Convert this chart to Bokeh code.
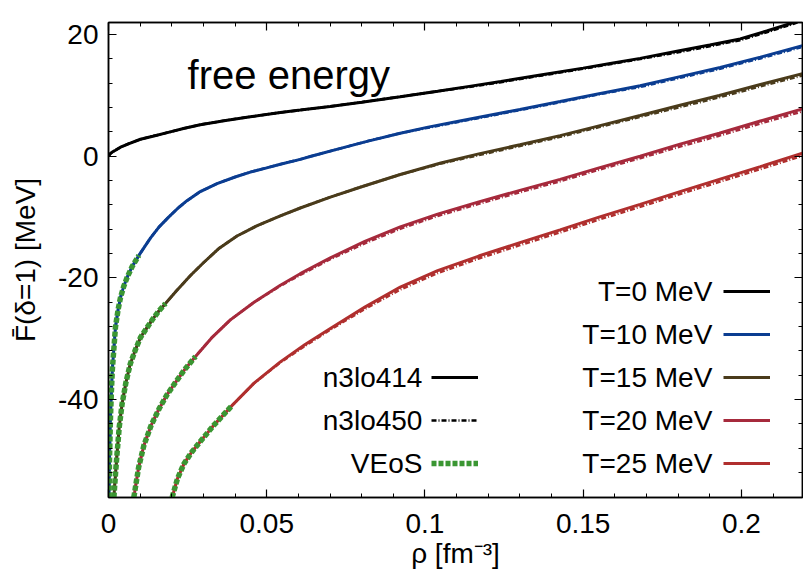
from bokeh.plotting import figure
from bokeh.models import (Range1d, FixedTicker, LinearAxis, Legend, LegendItem, Label,
                          CustomLabelingPolicy)
from bokeh.core.properties import value
from bokeh.embed import file_html
from bokeh.resources import INLINE

# ---------------- data ----------------
x_ticks = [0, 0.05, 0.1, 0.15, 0.2]
x_tick_labels = ["0", "0.05", "0.1", "0.15", "0.2"]
x_minor = [0.01, 0.02, 0.03, 0.04, 0.06, 0.07, 0.08, 0.09, 0.11, 0.12, 0.13, 0.14,
           0.16, 0.17, 0.18, 0.19, 0.21]
y_ticks = [-40, -20, 0, 20]
y_tick_labels = ["-40", "-20", "0", "20"]
y_minor = [-52, -48, -44, -36, -32, -28, -24, -16, -12, -8, -4, 4, 8, 12, 16]

temps = ["T=0 MeV", "T=10 MeV", "T=15 MeV", "T=20 MeV", "T=25 MeV"]
models = ["n3lo414", "n3lo450", "VEoS"]

# T = 0 MeV
rho_T0 = [0.0, 0.0005, 0.0012, 0.0022, 0.0038, 0.0065, 0.0101, 0.0140, 0.0186, 0.0240,
          0.0290, 0.0370, 0.0448, 0.0543, 0.0606, 0.0700, 0.0800, 0.0922,
          0.1040, 0.1140, 0.1240, 0.1370, 0.1500, 0.1590, 0.1680, 0.1800, 0.1900, 0.1996,
          0.2080, 0.2165, 0.2193]
F414_T0 = [0.0, 0.4, 0.7, 1.0, 1.5, 2.1, 2.8, 3.3, 3.9, 4.6,
           5.2, 5.9, 6.5, 7.2, 7.6, 8.2, 8.9, 9.8,
           10.7, 11.5, 12.3, 13.4, 14.5, 15.3, 16.1, 17.3, 18.3, 19.3,
           20.6, 22.0, 22.5]
F450_T0 = F414_T0[:18] + [10.7, 11.4, 12.2, 13.3, 14.4, 15.2, 16.0, 17.1, 18.1, 19.1,
                          20.4, 21.8, 22.3]

# T = 10 MeV
rho_T10 = [0.00017, 0.0003, 0.0006, 0.0009, 0.0012, 0.0016, 0.0022, 0.0030, 0.0038, 0.0048,
           0.0059, 0.0075, 0.0096, 0.0115, 0.0133, 0.0160, 0.0190, 0.0220, 0.0248, 0.0290,
           0.0343, 0.0400, 0.0448, 0.0500, 0.0543, 0.0606, 0.0640, 0.0733, 0.0820, 0.0922,
           0.1010, 0.1110, 0.1200, 0.1300, 0.1427, 0.1550, 0.1680, 0.1806, 0.1933, 0.2060,
           0.2193]
F414_T10 = [-56.1, -50.2, -43.4, -38.8, -35.2, -32.3, -28.1, -25.3, -23.2, -21.4,
            -19.9, -18.1, -16.3, -14.8, -13.4, -11.6, -10.0, -8.5, -7.3, -5.8,
            -4.5, -3.4, -2.6, -1.9, -1.3, -0.5, 0.0, 1.3, 2.5, 3.8,
            4.8, 5.8, 6.7, 7.7, 9.0, 10.3, 11.6, 13.1, 14.6, 16.3,
            18.2]
F450_T10 = F414_T10[:29] + [3.8, 4.7, 5.7, 6.6, 7.6, 8.9, 10.2, 11.4, 12.9, 14.4, 16.1, 18.0]

# T = 15 MeV
rho_T15 = [0.0017, 0.0022, 0.0027, 0.0034, 0.0043, 0.0055, 0.0069, 0.0085, 0.0101, 0.0120,
           0.0138, 0.0158, 0.0180, 0.0215, 0.0259, 0.0300, 0.0350, 0.0406, 0.0470, 0.0543,
           0.0606, 0.0701, 0.0800, 0.0922, 0.1050, 0.1170, 0.1300, 0.1427, 0.1550, 0.1680,
           0.1806, 0.1930, 0.2060, 0.2193]
F414_T15 = [-56.1, -52.3, -48.9, -44.5, -40.7, -37.2, -34.1, -31.8, -29.8, -28.3,
            -26.9, -25.5, -24.2, -22.1, -19.6, -17.5, -15.1, -13.1, -11.4, -9.8,
            -8.5, -6.7, -5.0, -3.0, -1.1, 0.4, 1.9, 3.4, 5.0, 6.7,
            8.4, 10.0, 11.8, 13.6]
F450_T15 = F414_T15[:23] + [-3.0, -1.2, 0.2, 1.7, 3.2, 4.8, 6.5, 8.1, 9.7, 11.5, 13.3]

# T = 20 MeV
rho_T20 = [0.0080, 0.0095, 0.0112, 0.0135, 0.0160, 0.0185, 0.0210, 0.0240, 0.0275, 0.0325,
           0.0385, 0.0460, 0.0543, 0.0606, 0.0701, 0.0810, 0.0922, 0.1040, 0.1170, 0.1300,
           0.1427, 0.1550, 0.1680, 0.1806, 0.1930, 0.2060, 0.2193]
F414_T20 = [-56.1, -51.2, -47.5, -44.2, -41.5, -39.2, -37.3, -35.1, -32.9, -29.9,
            -26.9, -24.0, -21.2, -19.3, -16.7, -14.0, -11.6, -9.5, -7.5, -5.6,
            -3.8, -1.9, 0.0, 2.0, 3.8, 5.8, 7.8]
F450_T20 = F414_T20[:12] + [-21.3, -19.5, -16.9, -14.3, -11.9, -9.8, -7.8, -5.9, -4.1, -2.2,
                            -0.3, 1.6, 3.4, 5.4, 7.4]

# T = 25 MeV
rho_T25 = [0.0201, 0.0218, 0.0238, 0.0262, 0.0290, 0.0333, 0.0390, 0.0460, 0.0543, 0.0620,
           0.0701, 0.0810, 0.0922, 0.1040, 0.1170, 0.1300, 0.1427, 0.1550, 0.1680, 0.1806,
           0.1930, 0.2060, 0.2193]
F414_T25 = [-56.1, -53.0, -50.6, -48.7, -46.9, -44.2, -41.0, -37.3, -33.8, -31.0,
            -28.3, -24.8, -21.5, -18.8, -16.4, -14.2, -12.1, -10.0, -7.9, -5.8,
            -3.8, -1.7, 0.5]
F450_T25 = F414_T25[:8] + [-33.9, -31.2, -28.5, -25.1, -21.9, -19.2, -16.8, -14.6, -12.5,
                           -10.4, -8.3, -6.2, -4.2, -2.1, 0.1]

# VEoS (virial EoS), low-density parts
rho_V10, F_V10 = rho_T10[:13], F414_T10[:13]
rho_V15, F_V15 = rho_T15[:13], F414_T15[:13]
rho_V20, F_V20 = rho_T20[:9], F414_T20[:9]
rho_V25, F_V25 = rho_T25[:7], F414_T25[:7]

# ---------------- styling ----------------
colors = ["#000000", "#0b3d91", "#4a3b1b", "#a62a3c", "#b02f2e"]
green = "#3a9632"
FONT = "Liberation Sans"
FS = "28px"

p = figure(frame_width=694, frame_height=475,
           x_range=Range1d(0, 0.2193), y_range=Range1d(-56.1, 22.0),
           output_backend="svg", toolbar_location=None,
           min_border_left=108, min_border_right=0, min_border_top=15, min_border_bottom=76)
p.xgrid.grid_line_color = None
p.ygrid.grid_line_color = None
p.outline_line_color = "black"
p.outline_line_width = 1.5
p.background_fill_color = "white"
p.border_fill_color = "white"

xa = p.below[0]
ya = p.left[0]

xt = FixedTicker(ticks=x_ticks, minor_ticks=x_minor)
yt = FixedTicker(ticks=y_ticks, minor_ticks=y_minor)

top = LinearAxis()
right = LinearAxis()
p.add_layout(top, "above")
p.add_layout(right, "right")

for ax, tk in [(xa, xt), (top, xt), (ya, yt), (right, yt)]:
    ax.ticker = tk
    ax.major_tick_in = 8
    ax.major_tick_out = 0
    ax.minor_tick_in = 4
    ax.minor_tick_out = 0
    ax.axis_line_width = 1.5
    ax.axis_line_color = "black"
    ax.major_tick_line_color = "black"
    ax.minor_tick_line_color = "black"
    ax.major_tick_line_width = 1.2
    ax.minor_tick_line_width = 1.0
    ax.major_label_text_font = FONT
    ax.major_label_text_font_size = FS
    ax.major_label_text_color = "black"

for ax in (top, right):
    ax.major_label_policy = CustomLabelingPolicy(code="return []")
    ax.major_label_standoff = 0

xa.major_label_overrides = {t: s for t, s in zip(x_ticks, x_tick_labels)}
ya.major_label_overrides = {t: s for t, s in zip(y_ticks, y_tick_labels)}
xa.major_label_standoff = 16
ya.major_label_standoff = 10
xa.axis_label = "ρ [fm⁻³]"
ya.axis_label = "F̄(δ=1) [MeV]"
for ax in (xa, ya):
    ax.axis_label_text_font = FONT
    ax.axis_label_text_font_size = FS
    ax.axis_label_text_font_style = "normal"
    ax.axis_label_text_color = "black"
xa.axis_label_standoff = 2
ya.axis_label_standoff = 14

# ---------------- curves ----------------
curves = [(rho_T0, F414_T0, F450_T0), (rho_T10, F414_T10, F450_T10),
          (rho_T15, F414_T15, F450_T15), (rho_T20, F414_T20, F450_T20),
          (rho_T25, F414_T25, F450_T25)]
solid_r = []
dashdot_r = []
for (r, f414, f450), c in zip(curves, colors):
    solid_r.append(p.line(r, f414, line_color=c, line_width=3))
    dashdot_r.append(p.line(r, f450, line_color=c, line_width=2.6, line_dash="5 2 1 2"))

veos_r = []
for r, f in [(rho_V10, F_V10), (rho_V15, F_V15), (rho_V20, F_V20), (rho_V25, F_V25)]:
    veos_r.append(p.line(r, f, line_color=green, line_width=5.5, line_dash="5 2"))

# ---------------- legends: glyph samples via Legend, texts to their left ----------------
def make_legend(renderers, loc):
    return Legend(items=[LegendItem(label=value(" "), renderers=[r]) for r in renderers],
                  location=loc, orientation="vertical",
                  glyph_width=47, glyph_height=20, label_width=0, label_height=20,
                  label_standoff=0, label_text_font_size="20px",
                  padding=0, margin=0, spacing=23,
                  border_line_alpha=0, background_fill_alpha=0)


p.add_layout(make_legend(solid_r, (615, 24)))
p.add_layout(make_legend([solid_r[0], dashdot_r[0], veos_r[0]], (323, 24)))

rowsT = [-22.2, -29.3, -36.3, -43.4, -50.5]
for txt, yy in zip(temps, rowsT):
    p.add_layout(Label(x=0.1908, y=yy, text=txt, text_align="right", text_baseline="middle",
                       text_font=FONT, text_font_size=FS, text_color="black"))
for txt, yy in zip(models, rowsT[2:]):
    p.add_layout(Label(x=0.0992, y=yy, text=txt, text_align="right", text_baseline="middle",
                       text_font=FONT, text_font_size=FS, text_color="black"))

p.add_layout(Label(x=0.0250, y=13.3, text="free energy", text_align="left",
                   text_baseline="alphabetic", text_font=FONT, text_font_size="40px",
                   text_color="black"))

open("out.html", "w").write(file_html(p, INLINE))
